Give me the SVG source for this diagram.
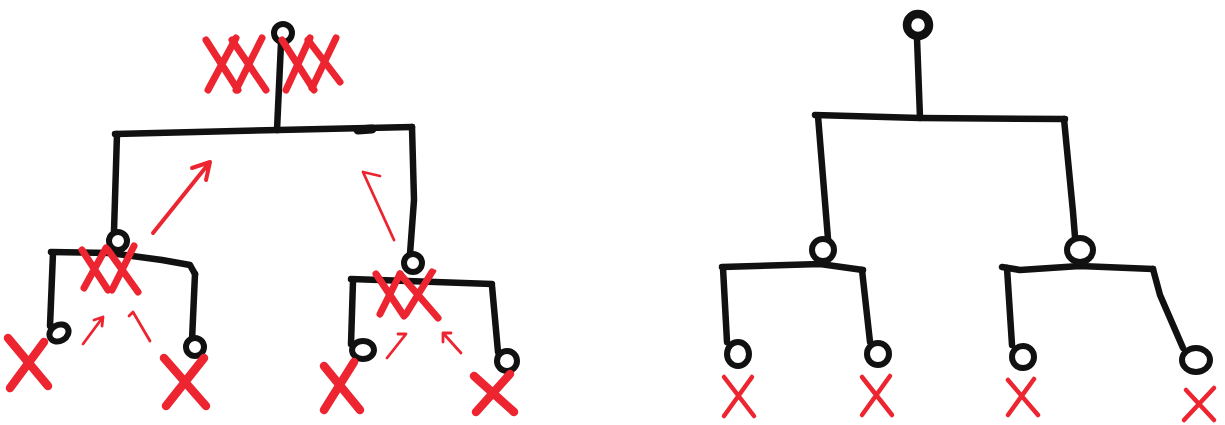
<svg xmlns="http://www.w3.org/2000/svg" width="1225" height="425" viewBox="0 0 1225 425">
<style>
.ink{fill:none;stroke:#111;stroke-width:6.5;stroke-linecap:round;stroke-linejoin:round}
.nd{fill:#fff;stroke:#111;stroke-width:6}
.nd2{fill:#fff;stroke:#111;stroke-width:8.5}
.xb{fill:none;stroke:#ec2530;stroke-width:8.5;stroke-linecap:round}
.xm{fill:none;stroke:#ec2530;stroke-width:7;stroke-linecap:round}
.xs{fill:none;stroke:#ec2530;stroke-width:4.5;stroke-linecap:round}
.ar{fill:none;stroke:#ec2530;stroke-width:4;stroke-linecap:round;stroke-linejoin:round}
.ar2{fill:none;stroke:#ec2530;stroke-width:2.8;stroke-linecap:round;stroke-linejoin:round}
</style>
<rect width="1225" height="425" fill="#fff"/>

<g id="connectors">
  <!-- left tree -->
  <path class="ink" d="M281,43 L277,130"/>
  <path class="ink" d="M115,134 L278,130 L412,127"/>
  <path class="ink" d="M358,130 L372,129" style="stroke-width:9"/>
  <path class="ink" d="M117,134 L114,231"/>
  <path class="ink" d="M412,127 L414,200 L410,254"/>
  <path class="ink" d="M51,252 L110,253 L162,260 L190,265 L195,274"/>
  <path class="ink" d="M53,253 L50,326"/>
  <path class="ink" d="M195,274 L192,340"/>
  <path class="ink" d="M351,279 L492,284"/>
  <path class="ink" d="M353,281 L351,344"/>
  <path class="ink" d="M492,286 L498,352"/>
  <!-- right tree -->
  <path class="ink" d="M917,38 L920,118"/>
  <path class="ink" d="M815,115 L920,118 L1065,119"/>
  <path class="ink" d="M818,116 L828,239"/>
  <path class="ink" d="M1064,119 L1073,212 L1075,237"/>
  <path class="ink" d="M722,267 L820,264 L863,270"/>
  <path class="ink" d="M723,268 L727,342"/>
  <path class="ink" d="M862,270 L870,342"/>
  <path class="ink" d="M1002,267 L1020,270 L1080,266 L1153,269"/>
  <path class="ink" d="M1007,268 L1012,345"/>
  <path class="ink" d="M1153,269 L1160,295 L1183,348"/>
</g>

<g id="left-root"><circle class="nd" cx="283" cy="33" r="9"/></g>
<g id="left-l"><circle class="nd" cx="118" cy="241" r="9"/></g>
<g id="left-r"><circle class="nd" cx="413" cy="263" r="9"/></g>
<g id="left-ll"><ellipse class="nd" cx="59" cy="333" rx="10" ry="8" transform="rotate(-30 59 333)"/></g>
<g id="left-lr"><circle class="nd" cx="195" cy="347" r="9"/></g>
<g id="left-rl"><ellipse class="nd" cx="363" cy="350" rx="11" ry="9"/></g>
<g id="left-rr"><circle class="nd" cx="507" cy="361" r="10"/></g>

<g id="right-root"><circle class="nd2" cx="918" cy="25" r="11"/></g>
<g id="right-l"><circle class="nd" cx="823" cy="250" r="11"/></g>
<g id="right-r"><ellipse class="nd" cx="1080" cy="250" rx="13" ry="12"/></g>
<g id="right-ll"><ellipse class="nd" cx="738" cy="354" rx="11" ry="12"/></g>
<g id="right-lr"><circle class="nd" cx="878" cy="354" r="11"/></g>
<g id="right-rl"><circle class="nd" cx="1023" cy="357" r="11"/></g>
<g id="right-rr"><ellipse class="nd" cx="1196" cy="360" rx="14" ry="12"/></g>

<g id="marks-left">
  <!-- root XXXX -->
  <path class="xm" d="M206,40 L238,90 M236,38 L208,90"/>
  <path class="xm" d="M232,40 L266,90 M262,38 L236,90"/>
  <path class="xm" d="M282,40 L314,90 M310,38 L286,90"/>
  <path class="xm" d="M308,40 L340,82 M336,38 L312,88"/>
  <!-- left mid XX -->
  <path class="xm" d="M82,250 L108,290 M106,248 L84,288"/>
  <path class="xm" d="M108,250 L138,292 M134,246 L112,290"/>
  <!-- right mid XX -->
  <path class="xm" d="M376,274 L404,316 M400,274 L380,314"/>
  <path class="xm" d="M400,274 L438,318 M432,272 L406,314"/>
  <path class="ar2" d="M430,276 L435,271"/>
  <!-- leaves -->
  <path class="xb" d="M8,338 L48,386 M44,342 L10,388"/>
  <path class="xb" d="M164,358 L206,406 M204,358 L166,406"/>
  <path class="xb" d="M324,366 L360,410 M354,362 L324,410"/>
  <path class="xb" d="M474,376 L514,412 M510,374 L476,412"/>
  <!-- arrows -->
  <path class="ar" d="M153,233 L210,162 M192,168 L210,162 L206,180"/>
  <path class="ar2" d="M394,240 L363,172 M363,172 L380,176"/>
  <path class="ar2" d="M83,344 L103,317 M94,320 L103,317 L102,326"/>
  <path class="ar2" d="M150,341 L133,312 L129,316"/>
  <path class="ar2" d="M387,358 L406,334 M398,334 L406,334"/>
  <path class="ar2" d="M461,353 L443,333 M443,333 L443,342 M443,333 L451,333"/>
</g>

<g id="marks-right">
  <path class="xs" d="M724,377 L754,416 M752,377 L724,416"/>
  <path class="xs" d="M862,377 L892,415 M890,376 L862,415"/>
  <path class="xs" d="M1008,380 L1038,415 M1034,379 L1008,415"/>
  <path class="xs" d="M1186,390 L1214,420 M1214,388 L1184,420"/>
</g>
</svg>
